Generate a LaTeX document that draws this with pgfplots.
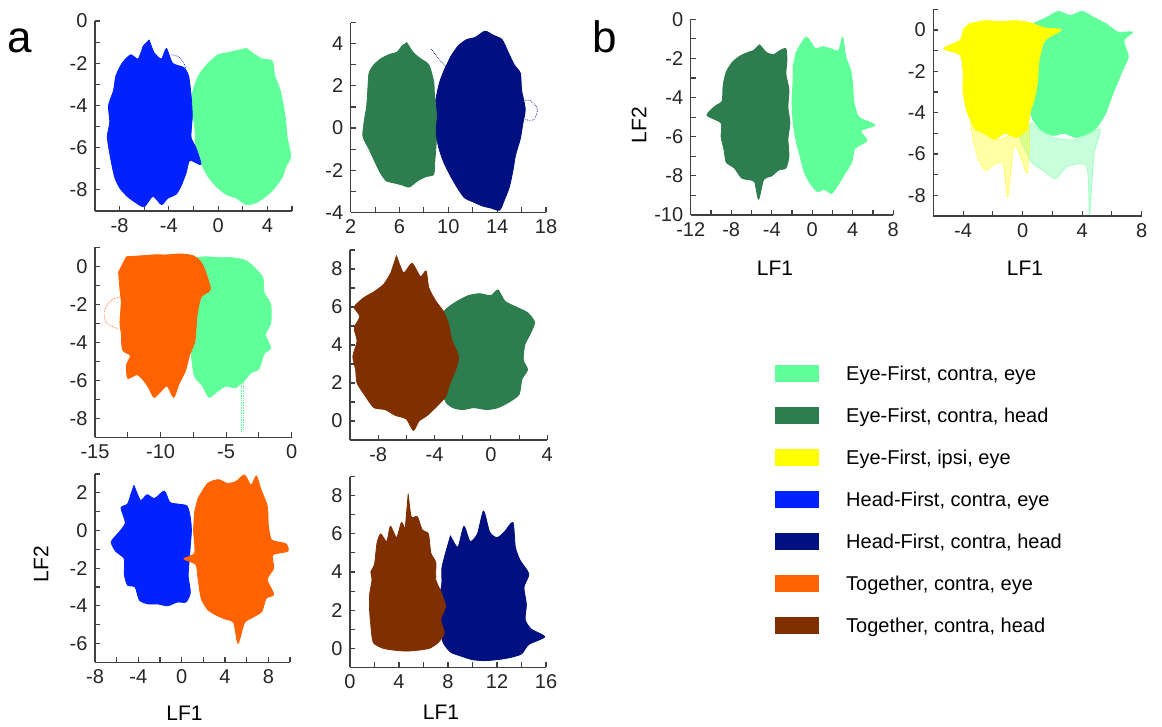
\documentclass[border=0pt]{standalone}
\usepackage{fontspec}
\setmainfont{Liberation Sans}
\usepackage{pgfplots}
\pgfplotsset{compat=1.18}

\definecolor{efce}{RGB}{96,255,154}
\definecolor{efch}{RGB}{46,125,78}
\definecolor{efie}{RGB}{255,255,0}
\definecolor{hfce}{RGB}{0,34,255}
\definecolor{hfch}{RGB}{0,16,128}
\definecolor{tce}{RGB}{255,98,0}
\definecolor{tch}{RGB}{128,48,0}
\definecolor{axgray}{RGB}{64,64,64}

\pgfplotsset{
  panel/.style={
    scale only axis, anchor=south west,
    axis lines*=left,
    axis line style={line width=1.3pt, draw=axgray},
    tick style={line width=1.1pt, draw=axgray},
    major tick length=5pt, minor tick length=5pt,
    tick align=inside,
    tick label style={font=\fontsize{20}{22}\selectfont, text=black!85},
    xticklabel style={yshift=-4pt},
    yticklabel style={xshift=-4pt},
    /pgf/number format/assume math mode=true,
  },
  blob/.style={draw=#1, fill=#1, line width=0.8pt, line join=round, mark=none,
    smooth, tension=0.4},
  wisp/.style={draw=#1, line width=0.7pt, densely dotted, mark=none, smooth},
}

\begin{document}
\begin{tikzpicture}
\useasboundingbox (0,0) rectangle (1162pt,726pt);

% ---------- a: top left ----------
\begin{axis}[panel, at={(95pt,515pt)}, width=197pt, height=190pt,
  xmin=-10, xmax=6, ymin=-9, ymax=0,
  xtick={-8,-4,0,4}, minor xtick={-10,-6,-2,2,6},
  ytick={0,-2,-4,-6,-8}, minor ytick={-1,-3,-5,-7,-9}]
\addplot[blob=efce] coordinates {
 (2.3,-1.3) (3.0,-1.6) (3.6,-1.8) (4.4,-1.9) (4.6,-2.6) (5.0,-3.2) (5.3,-4.0)
 (5.5,-4.8) (5.6,-5.5) (5.9,-6.4) (5.5,-6.9) (5.2,-7.4) (4.6,-7.9) (3.9,-8.3)
 (3.1,-8.6) (2.3,-8.7) (1.5,-8.4) (0.6,-8.2) (-0.2,-7.8) (-0.9,-7.3) (-1.4,-6.7)
 (-1.8,-6.0) (-1.9,-5.0) (-2.2,-4.0) (-2.0,-3.2) (-1.5,-2.5) (-0.8,-2.0)
 (0.0,-1.6) (0.8,-1.5) (1.5,-1.4)} -- cycle;
\addplot[blob=hfce] coordinates {
 (-5.6,-0.9) (-5.2,-1.5) (-4.6,-1.8) (-4.2,-1.3) (-3.7,-2.0) (-2.8,-2.2)
 (-2.4,-2.6) (-2.2,-3.5) (-2.1,-4.5) (-2.2,-5.5) (-1.8,-6.0) (-1.4,-6.8)
 (-2.3,-6.6) (-2.6,-7.2) (-3.0,-7.8) (-3.4,-8.2) (-4.1,-8.4) (-4.6,-8.7)
 (-5.3,-8.3) (-6.0,-8.8) (-6.7,-8.6) (-7.4,-8.3) (-8.0,-7.9) (-8.4,-7.4)
 (-8.7,-6.6) (-9.0,-5.5) (-8.8,-4.8) (-8.9,-4.0) (-8.5,-3.3) (-8.3,-2.6)
 (-7.8,-2.0) (-7.1,-1.6) (-6.5,-1.8) (-6.1,-1.2)} -- cycle;
\addplot[wisp=hfce] coordinates {(-3.8,-1.6) (-3.2,-1.7) (-2.7,-2.1) (-2.5,-2.8)};
\end{axis}

% ---------- a: top right ----------
\begin{axis}[panel, at={(350.7pt,513.7pt)}, width=195.3pt, height=189.6pt,
  xmin=2, xmax=18, ymin=-4, ymax=5,
  xtick={2,6,10,14,18}, minor xtick={4,8,12,16},
  ytick={-4,-2,0,2,4}, minor ytick={-3,-1,1,3,5}]
\addplot[blob=efch] coordinates {
 (6.6,4.05) (7.1,3.6) (7.7,3.3) (8.4,3.0) (8.8,2.2) (8.9,1.4) (9.4,0.9) (9.7,0.4)
 (9.1,-0.1) (9.0,-0.8) (8.9,-1.5) (8.8,-2.2) (8.2,-2.3) (7.5,-2.5) (6.8,-2.8)
 (6.2,-2.7) (5.5,-2.6) (4.9,-2.5) (4.4,-2.1) (3.9,-1.5) (3.5,-1.0) (3.0,-0.4)
 (3.1,0.3) (3.3,1.0) (3.4,1.8) (3.5,2.6) (3.9,3.0) (4.5,3.3) (5.2,3.5)
 (5.8,3.6) (6.2,3.9)} -- cycle;
\addplot[blob=hfch] coordinates {
 (10.2,3.4) (10.8,3.9) (11.5,4.2) (12.2,4.3) (13.0,4.6) (13.7,4.4) (14.4,4.2)
 (14.9,3.6) (15.4,3.0) (15.9,2.6) (16.0,1.8) (16.3,0.9) (16.1,0.2) (15.9,-0.5)
 (15.5,-1.3) (15.3,-2.0) (15.0,-2.8) (14.6,-3.4) (14.2,-3.9) (13.5,-3.8)
 (12.8,-3.7) (12.0,-3.5) (11.3,-3.3) (10.7,-2.8) (10.2,-2.3) (9.6,-1.6)
 (9.2,-0.9) (9.0,-0.2) (9.1,0.6) (9.0,1.4) (9.3,2.2) (9.7,2.8)} -- cycle;
\addplot[wisp=hfch] coordinates {(8.6,3.75) (9.2,3.3) (9.8,2.9) (10.2,2.7)};
\addplot[wisp=hfch] coordinates {(16.0,1.3) (16.7,1.3) (17.3,0.9) (17.0,0.4) (16.3,0.4)};
\end{axis}

% ---------- a: middle left ----------
\begin{axis}[panel, at={(95pt,288.7pt)}, width=196.7pt, height=190pt,
  xmin=-15, xmax=0, ymin=-9, ymax=1,
  xtick={-15,-10,-5,0}, minor xtick={-12.5,-7.5,-2.5},
  ytick={0,-2,-4,-6,-8}, minor ytick={1,-1,-3,-5,-7,-9}]
\addplot[blob=efce] coordinates {
 (-7.5,0.45) (-6.5,0.5) (-5.5,0.45) (-4.5,0.45) (-3.5,0.3) (-2.8,-0.1)
 (-2.2,-0.6) (-2.1,-1.4) (-1.6,-2.0) (-1.6,-3.0) (-2.0,-3.6) (-1.6,-4.3)
 (-2.1,-4.6) (-2.5,-5.4) (-3.1,-5.6) (-3.6,-6.0) (-4.3,-6.4) (-5.0,-6.3)
 (-5.7,-6.6) (-6.3,-6.9) (-6.8,-6.3) (-7.4,-5.8) (-7.6,-5.0) (-7.7,-4.0)
 (-7.6,-3.0) (-7.5,-2.0) (-7.6,-1.0) (-7.6,0.0)} -- cycle;
\addplot[wisp=efce] coordinates {(-3.85,-5.6) (-3.85,-8.7)};
\addplot[wisp=efce] coordinates {(-3.72,-5.6) (-3.72,-8.6)};
\addplot[blob=tce] coordinates {
 (-12.6,0.5) (-11.5,0.55) (-10.5,0.6) (-9.5,0.6) (-8.5,0.65) (-7.5,0.55)
 (-6.8,0.1) (-6.2,-1.2) (-6.9,-1.6) (-7.2,-2.5) (-7.3,-3.3) (-7.4,-4.0)
 (-7.8,-4.7) (-8.1,-5.5) (-8.6,-6.2) (-9.0,-6.9) (-9.5,-6.3) (-10.0,-6.6)
 (-10.5,-6.9) (-10.9,-6.4) (-11.3,-6.0) (-11.8,-5.7) (-12.5,-5.9) (-12.6,-5.2)
 (-12.3,-4.7) (-12.9,-4.4) (-13.0,-3.5) (-13.1,-3.0) (-13.0,-1.9)
 (-13.1,-1.2) (-13.2,-0.3)} -- cycle;
\addplot[wisp=tce] coordinates {(-13.0,-1.6) (-13.8,-1.8) (-14.3,-2.4) (-14.1,-3.0) (-13.2,-3.3)};
\end{axis}

% ---------- a: middle right ----------
\begin{axis}[panel, at={(350pt,286pt)}, width=197.3pt, height=190pt,
  xmin=-10, xmax=4, ymin=-1, ymax=9,
  xtick={-8,-4,0,4}, minor xtick={-10,-6,-2,2},
  ytick={0,2,4,6,8}, minor ytick={-1,1,3,5,7,9}]
\addplot[blob=efch] coordinates {
 (-3.6,5.6) (-3.0,6.0) (-2.4,6.3) (-1.6,6.6) (-0.8,6.7) (0.0,6.6) (0.5,6.9)
 (1.0,6.3) (1.8,6.0) (2.6,5.7) (3.1,5.2) (2.8,4.6) (2.4,4.0) (2.3,3.2)
 (2.6,2.7) (2.2,2.2) (2.0,1.4) (1.3,1.0) (0.5,0.7) (-0.3,0.6) (-1.2,0.7)
 (-2.0,0.6) (-2.7,0.7) (-3.2,1.0) (-3.5,1.8) (-3.5,3.0) (-3.6,4.2)} -- cycle;
\addplot[blob=tch] coordinates {
 (-6.7,8.7) (-6.2,7.8) (-5.6,8.3) (-5.0,7.6) (-4.6,7.9) (-4.4,7.0) (-3.9,6.3)
 (-3.4,5.8) (-3.0,5.1) (-2.8,4.3) (-2.3,3.4) (-2.5,2.7) (-2.9,2.0) (-3.2,1.3)
 (-3.8,0.8) (-4.5,0.3) (-5.1,0.0) (-5.5,-0.5) (-6.0,0.1) (-6.8,0.3) (-7.5,0.6)
 (-8.3,0.7) (-8.9,1.3) (-9.5,2.0) (-9.6,2.7) (-9.8,3.4) (-9.5,4.2) (-9.7,4.9)
 (-9.3,5.5) (-9.7,6.0) (-9.0,6.5) (-8.3,6.8) (-7.6,7.2) (-7.1,7.8)} -- cycle;
\end{axis}

% ---------- a: bottom left ----------
\begin{axis}[panel, at={(95pt,63.7pt)}, width=195pt, height=188.3pt,
  xmin=-8, xmax=10, ymin=-7, ymax=3,
  xtick={-8,-4,0,4,8}, minor xtick={-6,-2,2,6,10},
  ytick={2,0,-2,-4,-6}, minor ytick={3,1,-1,-3,-5,-7}]
\addplot[blob=hfce] coordinates {
 (-4.4,2.4) (-3.8,1.6) (-3.2,1.9) (-2.5,1.7) (-1.6,2.1) (-1.1,1.5) (-0.3,1.4)
 (0.5,1.3) (0.8,0.7) (0.9,0.0) (0.8,-0.8) (0.7,-1.6) (0.6,-2.4) (0.8,-3.3)
 (0.4,-3.8) (-0.4,-3.8) (-1.3,-4.0) (-2.2,-3.9) (-3.1,-3.9) (-3.9,-3.7)
 (-4.3,-3.0) (-5.0,-2.9) (-5.3,-2.3) (-5.3,-1.5) (-6.1,-1.1) (-6.5,-0.6)
 (-5.8,-0.1) (-5.2,0.4) (-5.6,1.2) (-5.0,1.4) (-4.7,1.9)} -- cycle;
\addplot[blob=tce] coordinates {
 (1.5,1.7) (2.4,2.5) (3.4,2.7) (4.2,2.5) (5.0,2.6) (5.8,2.95) (6.4,2.4)
 (6.9,2.9) (7.3,2.2) (7.9,1.3) (8.0,0.3) (8.3,-0.5) (9.6,-0.7) (9.8,-1.1)
 (8.4,-1.3) (8.5,-2.0) (7.9,-2.6) (8.5,-3.4) (7.8,-3.6) (7.4,-4.3) (6.6,-4.6)
 (5.8,-4.9) (5.2,-6.0) (4.8,-4.9) (4.0,-4.7) (3.2,-4.5) (2.4,-4.2) (1.8,-3.6)
 (1.5,-2.5) (1.3,-1.8) (0.2,-1.5) (1.2,-1.2) (1.1,0.0) (1.2,1.0)} -- cycle;
\end{axis}

% ---------- a: bottom right ----------
\begin{axis}[panel, at={(350pt,58.7pt)}, width=196pt, height=190.6pt,
  xmin=0, xmax=16, ymin=-1, ymax=9,
  xtick={0,4,8,12,16}, minor xtick={2,6,10,14},
  ytick={0,2,4,6,8}, minor ytick={-1,1,3,5,7,9}]
\addplot[blob=hfch] coordinates {
 (8.2,5.9) (8.8,5.3) (9.3,6.4) (9.8,5.6) (10.4,6.0) (10.9,7.2) (11.4,6.1)
 (12.0,5.8) (12.6,6.1) (13.3,6.6) (13.5,5.3) (13.9,4.6) (14.6,3.9) (14.2,3.2)
 (14.4,2.3) (14.3,1.5) (14.8,1.0) (15.9,0.6) (14.6,0.2) (14.0,-0.3) (13.0,-0.5)
 (12.0,-0.6) (11.0,-0.65) (10.0,-0.6) (9.0,-0.4) (8.2,-0.2) (7.6,0.3) (7.4,1.0)
 (7.5,1.8) (7.3,2.6) (7.5,3.4) (7.5,4.2) (7.8,5.0)} -- cycle;
\addplot[blob=tch] coordinates {
 (4.75,8.1) (5.0,6.9) (5.5,6.9) (5.9,6.2) (6.4,6.0) (6.6,5.0) (7.0,4.5)
 (7.0,3.6) (7.4,3.0) (7.8,2.2) (7.4,1.5) (7.7,0.8) (7.2,0.3) (6.5,0.0)
 (5.6,-0.1) (4.6,-0.15) (3.6,-0.1) (2.7,0.0) (1.9,0.3) (1.7,1.2) (1.6,2.0)
 (1.6,2.8) (1.8,3.6) (1.7,4.0) (2.0,4.4) (2.2,5.5) (2.5,6.0) (3.0,5.6)
 (3.3,6.4) (3.8,5.8) (4.2,6.6) (4.5,6.2)} -- cycle;
\end{axis}

% ---------- b: left ----------
\begin{axis}[panel, at={(690.7pt,511pt)}, width=202.6pt, height=195.7pt,
  xmin=-12, xmax=8, ymin=-10, ymax=0,
  xtick={-12,-8,-4,0,4,8}, minor xtick={-10,-6,-2,2,6},
  ytick={0,-2,-4,-6,-8,-10}, minor ytick={-1,-3,-5,-7,-9}]
\addplot[blob=efch] coordinates {
 (-5.2,-1.3) (-4.5,-1.7) (-3.8,-1.8) (-3.2,-1.6) (-2.6,-1.5) (-2.5,-2.1)
 (-2.6,-2.8) (-2.3,-3.6) (-2.4,-4.5) (-2.2,-5.3) (-2.4,-6.1) (-2.3,-7.0)
 (-2.6,-7.6) (-3.3,-7.7) (-4.0,-8.0) (-4.8,-8.2) (-5.3,-9.2) (-5.7,-8.3)
 (-6.3,-8.2) (-7.0,-8.1) (-7.7,-7.6) (-8.5,-7.3) (-8.7,-6.7) (-9.0,-6.0)
 (-9.0,-5.3) (-10.4,-4.9) (-9.5,-4.4) (-8.9,-4.2) (-8.8,-3.4) (-8.5,-2.7)
 (-7.9,-2.2) (-7.2,-1.9) (-6.4,-1.7) (-5.8,-1.6)} -- cycle;
\addplot[blob=efce] coordinates {
 (-1.6,-1.7) (-0.6,-0.9) (0.3,-1.5) (1.0,-1.4) (1.8,-1.5) (2.6,-1.6) (3.0,-0.9)
 (3.3,-1.9) (3.8,-2.6) (4.0,-3.4) (4.1,-4.2) (4.6,-5.0) (6.2,-5.4) (4.8,-5.7)
 (5.4,-6.2) (4.2,-6.6) (3.9,-7.3) (3.2,-7.9) (2.5,-8.5) (1.9,-8.9) (1.2,-8.7)
 (0.5,-8.8) (-0.2,-8.4) (-0.8,-7.8) (-1.2,-7.0) (-1.6,-6.2) (-1.9,-5.2)
 (-2.0,-4.2) (-1.9,-3.2) (-1.9,-2.4)} -- cycle;
\end{axis}

% ---------- b: right ----------
\begin{axis}[panel, at={(933.3pt,510pt)}, width=208.4pt, height=206.7pt,
  xmin=-6, xmax=8, ymin=-9, ymax=1,
  xtick={-4,0,4,8}, minor xtick={-6,-2,2,6},
  ytick={0,-2,-4,-6,-8}, minor ytick={1,-1,-3,-5,-7,-9}]
\addplot[blob=efce, fill opacity=0.35, draw opacity=0.5] coordinates {
 (0.6,-4.5) (2.0,-5.2) (3.6,-5.3) (5.2,-4.8) (4.8,-6.0) (4.5,-8.9) (4.3,-6.6)
 (3.0,-6.6) (2.2,-7.2) (1.4,-6.8) (0.6,-6.4) (-0.2,-5.2)} -- cycle;
\addplot[blob=efce] coordinates {
 (0.8,0.35) (1.6,0.6) (2.4,0.9) (3.2,0.7) (4.0,0.9) (4.8,0.6) (5.6,0.3)
 (6.4,-0.1) (7.4,-0.1) (6.8,-0.5) (7.1,-1.3) (6.8,-1.8) (6.4,-2.5) (6.0,-3.2)
 (5.6,-4.0) (5.0,-4.7) (4.4,-5.0) (3.6,-5.2) (2.8,-5.0) (2.0,-5.1) (1.2,-4.8)
 (0.6,-4.2) (0.4,-3.0) (0.5,-2.0) (0.6,-1.0) (0.7,-0.2)} -- cycle;
\addplot[blob=efie, fill opacity=0.35, draw opacity=0.5] coordinates {
 (-3.5,-4.5) (-1.5,-5.3) (0.4,-4.6) (0.3,-6.9) (-0.2,-6.0) (-0.6,-5.6)
 (-1.0,-8.1) (-1.3,-6.5) (-1.9,-6.5) (-2.5,-6.8) (-3.0,-6.2) (-3.3,-5.4)} -- cycle;
\addplot[blob=efie] coordinates {
 (-3.6,0.3) (-2.5,0.45) (-1.5,0.4) (-0.5,0.45) (0.5,0.35) (1.5,0.1) (2.6,0.0)
 (1.5,-0.5) (1.1,-1.5) (1.0,-2.5) (0.8,-3.3) (0.5,-4.0) (0.3,-4.8) (-0.4,-5.2)
 (-1.2,-5.0) (-1.9,-5.3) (-2.6,-5.0) (-3.2,-4.8) (-3.6,-4.2) (-3.8,-3.8)
 (-4.0,-3.0) (-4.0,-2.0) (-4.2,-1.2) (-5.3,-0.9) (-4.2,-0.5) (-4.0,0.0)} -- cycle;
\end{axis}

% ---------- axis titles and panel letters ----------
\tikzset{ttl/.style={font=\fontsize{21}{23}\selectfont}}
\node[ttl, rotate=90] at (41pt,162pt) {LF2};
\node[ttl] at (184.5pt,13pt) {LF1};
\node[ttl] at (441pt,14pt) {LF1};
\node[ttl, rotate=90] at (639pt,601pt) {LF2};
\node[ttl] at (775pt,458pt) {LF1};
\node[ttl] at (1025pt,458pt) {LF1};
\node[anchor=base, font=\fontsize{44}{46}\selectfont] at (20pt,673pt) {a};
\node[anchor=base, font=\fontsize{44}{46}\selectfont] at (605pt,673pt) {b};

% ---------- legend ----------
\foreach \c/\t [count=\i from 0] in {efce/{Eye-First, contra, eye},
    efch/{Eye-First, contra, head}, efie/{Eye-First, ipsi, eye},
    hfce/{Head-First, contra, eye}, hfch/{Head-First, contra, head},
    tce/{Together, contra, eye}, tch/{Together, contra, head}} {
  \pgfmathsetmacro{\yc}{726-373.3-41.95*\i}
  \fill[\c] (775pt,\yc pt-8.5pt) rectangle (819pt,\yc pt+8.5pt);
  \node[anchor=base west, inner sep=0pt, font=\fontsize{20}{22}\selectfont]
    at (846pt,\yc pt-7pt) {\t};
}
\end{tikzpicture}
\end{document}
